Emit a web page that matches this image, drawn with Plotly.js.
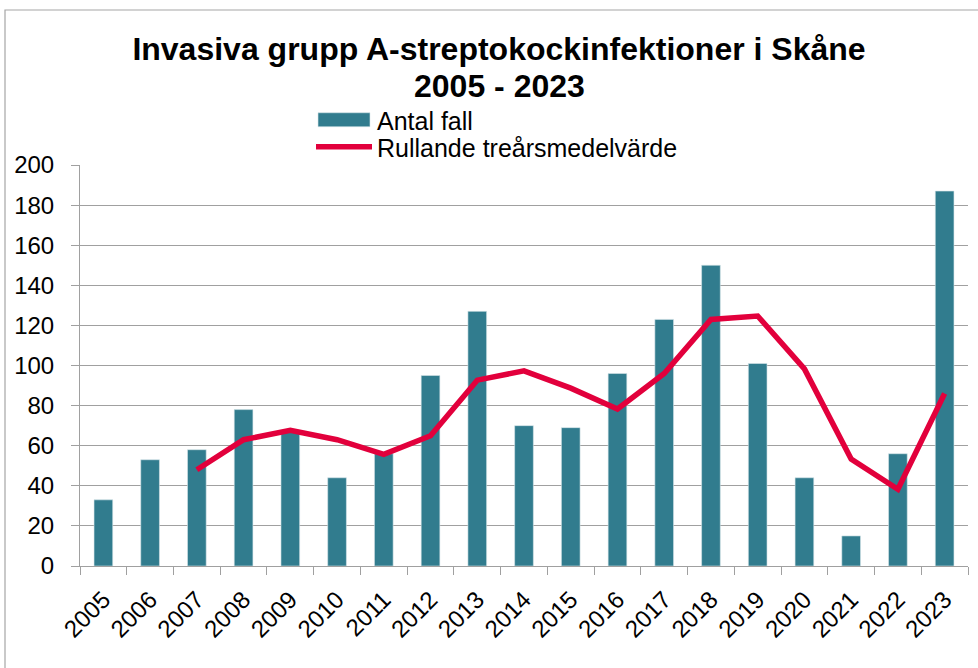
<!DOCTYPE html>
<html>
<head>
<meta charset="utf-8">
<script src="https://cdn.plot.ly/plotly-3.0.1.min.js"></script>
<style>
html,body{margin:0;padding:0;background:#fff;}
#chart{width:978px;height:668px;}
</style>
</head>
<body>
<div id="chart"></div>
<script>
const years = ["2005","2006","2007","2008","2009","2010","2011","2012","2013","2014","2015","2016","2017","2018","2019","2020","2021","2022","2023"];
const antalFall = [33,53,58,78,67,44,56,95,127,70,69,96,123,150,101,44,15,56,187];
const rullande = [null,null,48,63,67.7,63,55.7,65,92.7,97.3,88.7,78.3,96,123,124.7,98.3,53.3,38.3,86];
const yTicks = [0,20,40,60,80,100,120,140,160,180,200];
const titleLine1 = "Invasiva grupp A-streptokockinfektioner i Skåne";
const titleLine2 = "2005 - 2023";

const font = "Liberation Sans, Arial, sans-serif";
const barColor = "#317C8E";
const lineColor = "#E2003C";

const traces = [
  {
    type: "bar",
    name: "Antal fall",
    x: years,
    y: antalFall,
    marker: {color: barColor, line: {color: "#d8e6ea", width: 0.6}},
    legend: "legend"
  },
  {
    type: "scatter",
    mode: "lines",
    name: "Rullande treårsmedelvärde",
    x: years,
    y: rullande,
    line: {color: lineColor, width: 5.5},
    connectgaps: false,
    legend: "legend2"
  }
];

const legendCommon = {
  xanchor: "left", yanchor: "middle",
  font: {family: font, size: 25, color: "#000"},
  bgcolor: "rgba(0,0,0,0)",
  itemwidth: 56,
  borderwidth: 0
};

const layout = {
  width: 978,
  height: 668,
  paper_bgcolor: "#ffffff",
  plot_bgcolor: "#ffffff",
  margin: {l: 80, r: 10, t: 165, b: 102},
  font: {family: font, color: "#000"},
  title: {
    text: "<b>" + titleLine1 + "</b>",
    font: {family: font, size: 32, color: "#000"},
    x: 499/978, xref: "container", xanchor: "center",
    y: 1 - 49/668, yref: "container", yanchor: "middle"
  },
  annotations: [
    {
      text: "<b>" + titleLine2 + "</b>",
      font: {family: font, size: 32, color: "#000"},
      xref: "paper", yref: "paper",
      x: (499-80)/888, y: (566-86)/401,
      xanchor: "center", yanchor: "middle",
      showarrow: false
    }
  ],
  showlegend: true,
  legend: Object.assign({}, legendCommon, {x: (311-80)/888, y: (566-120)/401}),
  legend2: Object.assign({}, legendCommon, {x: (311-80)/888, y: (566-147)/401}),
  bargap: 0.6,
  xaxis: {
    type: "category",
    tickangle: -45,
    tickfont: {family: font, size: 24, color: "#000"},
    ticks: "outside",
    tickson: "boundaries",
    ticklen: 8,
    tickcolor: "#a0a0a0",
    ticklabelstandoff: 9,
    showline: true,
    linecolor: "#a0a0a0",
    linewidth: 1,
    showgrid: false,
    zeroline: false,
    fixedrange: true
  },
  yaxis: {
    range: [0, 200],
    tickvals: yTicks,
    ticktext: yTicks.map(String),
    tickfont: {family: font, size: 24, color: "#000"},
    ticks: "outside",
    ticklen: 8,
    tickcolor: "#a0a0a0",
    ticklabelstandoff: 12,
    showline: true,
    linecolor: "#a0a0a0",
    linewidth: 1,
    showgrid: true,
    gridcolor: "#a0a0a0",
    gridwidth: 1,
    zeroline: false,
    fixedrange: true
  },
  shapes: [
    {
      type: "rect", xref: "paper", yref: "paper",
      x0: (5-80)/888, x1: 1.2, y0: -0.3, y1: (566-10)/401,
      line: {color: "#a6a6a6", width: 1.2},
      fillcolor: "rgba(0,0,0,0)",
      layer: "below"
    }
  ]
};

Plotly.newPlot("chart", traces, layout, {displayModeBar: false, staticPlot: true}).then(function (gd) {
  // widen the bar legend swatch to a wide rectangle like the original
  gd.querySelectorAll(".legend .legendpoints path").forEach(function (p) {
    const d = p.getAttribute("d") || "";
    if (d.indexOf("M6,6H-6V-6H6Z") === 0) {
      p.setAttribute("d", "M26,7H-26V-7H26Z");
    }
  });
});
</script>
</body>
</html>
